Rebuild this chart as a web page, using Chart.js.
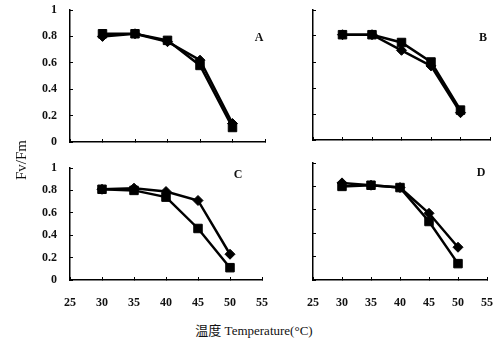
<!DOCTYPE html>
<html><head><meta charset="utf-8">
<script src="https://cdn.jsdelivr.net/npm/chart.js@4"></script>
<style>
html,body{margin:0;padding:0;background:#fff;width:494px;height:340px;overflow:hidden;position:relative;}
canvas{position:absolute;}
.lbl{position:absolute;font-family:"Liberation Serif","Noto Sans CJK SC",serif;color:#111;white-space:nowrap;transform:translate(-50%,-50%);line-height:1;}
</style></head><body>
<canvas id="cA" width="275" height="150" style="left:0;top:0"></canvas>
<canvas id="cB" width="219" height="150" style="left:275px;top:0"></canvas>
<canvas id="cC" width="275" height="170" style="left:0;top:150px"></canvas>
<canvas id="cD" width="219" height="170" style="left:275px;top:150px"></canvas>
<div class="lbl" style="left:21px;top:160px;font-size:15px;transform:translate(-50%,-50%) rotate(-90deg)">Fv/Fm</div>
<div class="lbl" style="left:254px;top:330px;font-size:13px">温度 Temperature(°C)</div>
<div class="lbl" style="left:259px;top:37px;font-size:12px;font-weight:bold">A</div>
<div class="lbl" style="left:483px;top:37px;font-size:12px;font-weight:bold">B</div>
<div class="lbl" style="left:238px;top:174px;font-size:12px;font-weight:bold">C</div>
<div class="lbl" style="left:481px;top:172px;font-size:12px;font-weight:bold">D</div>
<script>
const temps = [30, 35, 40, 45, 50];
const xTicks = [25, 30, 35, 40, 45, 50, 55];
const yTicks = [0, 0.2, 0.4, 0.6, 0.8, 1];

const A_square  = [0.82, 0.82, 0.77, 0.58, 0.11];
const A_diamond = [0.80, 0.82, 0.76, 0.62, 0.14];
const B_square  = [0.81, 0.81, 0.75, 0.60, 0.23];
const B_diamond = [0.81, 0.81, 0.69, 0.57, 0.21];
const C_square  = [0.81, 0.80, 0.74, 0.46, 0.11];
const C_diamond = [0.81, 0.82, 0.79, 0.71, 0.23];
const D_square  = [0.80, 0.81, 0.79, 0.50, 0.14];
const D_diamond = [0.83, 0.81, 0.79, 0.57, 0.28];

const FONT = {family: '"Liberation Serif", serif', size: 12, weight: 'bold'};

function series(vals, style, r) {
  return {
    data: temps.map((t, i) => ({x: t, y: vals[i]})),
    borderColor: '#000', backgroundColor: '#000', borderWidth: 2.5,
    pointStyle: style, pointRadius: r, pointBorderWidth: 1, pointBorderColor: '#000',
    tension: 0, fill: false
  };
}

function noPad(s) { s.paddingTop = 0; s.paddingBottom = 0; s.paddingLeft = 0; s.paddingRight = 0; }

function panel(id, sq, di, o) {
  new Chart(document.getElementById(id), {
    type: 'line',
    data: {datasets: [series(di, 'rectRot', 5), series(sq, 'rect', 6)]},
    options: {
      responsive: false, animation: false,
      layout: {padding: o.pad, autoPadding: false},
      plugins: {legend: {display: false}, tooltip: {enabled: false}},
      scales: {
        x: {
          type: 'linear', min: 25, max: 55,
          afterBuildTicks: s => { s.ticks = xTicks.map(v => ({value: v})); },
          border: {display: true, color: '#000', width: 1.5},
          grid: {display: true, drawOnChartArea: false, drawTicks: true, tickLength: -3, color: '#000', lineWidth: 1},
          ticks: {display: o.showX, padding: 19, font: FONT, color: '#111', maxRotation: 0, callback: v => String(v)},
          afterFit: s => { s.height = o.xH; noPad(s); }
        },
        y: {
          type: 'linear', min: 0, max: 1,
          afterBuildTicks: s => { s.ticks = yTicks.map(v => ({value: v})); },
          border: {display: true, color: '#000', width: 1.5},
          grid: {display: true, drawOnChartArea: false, drawTicks: true, tickLength: -3, color: '#000', lineWidth: 1},
          ticks: {display: o.showY, padding: 16, font: FONT, color: '#111', callback: v => String(v)},
          afterFit: s => { s.width = o.yW; noPad(s); }
        }
      }
    }
  });
}

panel('cA', A_square, A_diamond, {showX: false, showY: true, yW: 70, xH: 8, pad: {left: 0, top: 10, right: 10, bottom: 0}});
panel('cB', B_square, B_diamond, {showX: false, showY: false, yW: 38, xH: 10, pad: {left: 0, top: 10, right: 4, bottom: 0}});
panel('cC', C_square, C_diamond, {showX: true, showY: true, yW: 70, xH: 40, pad: {left: 0, top: 18, right: 13, bottom: 0}});
panel('cD', D_square, D_diamond, {showX: true, showY: false, yW: 38, xH: 40, pad: {left: 0, top: 13, right: 7, bottom: 0}});
</script>
</body></html>
